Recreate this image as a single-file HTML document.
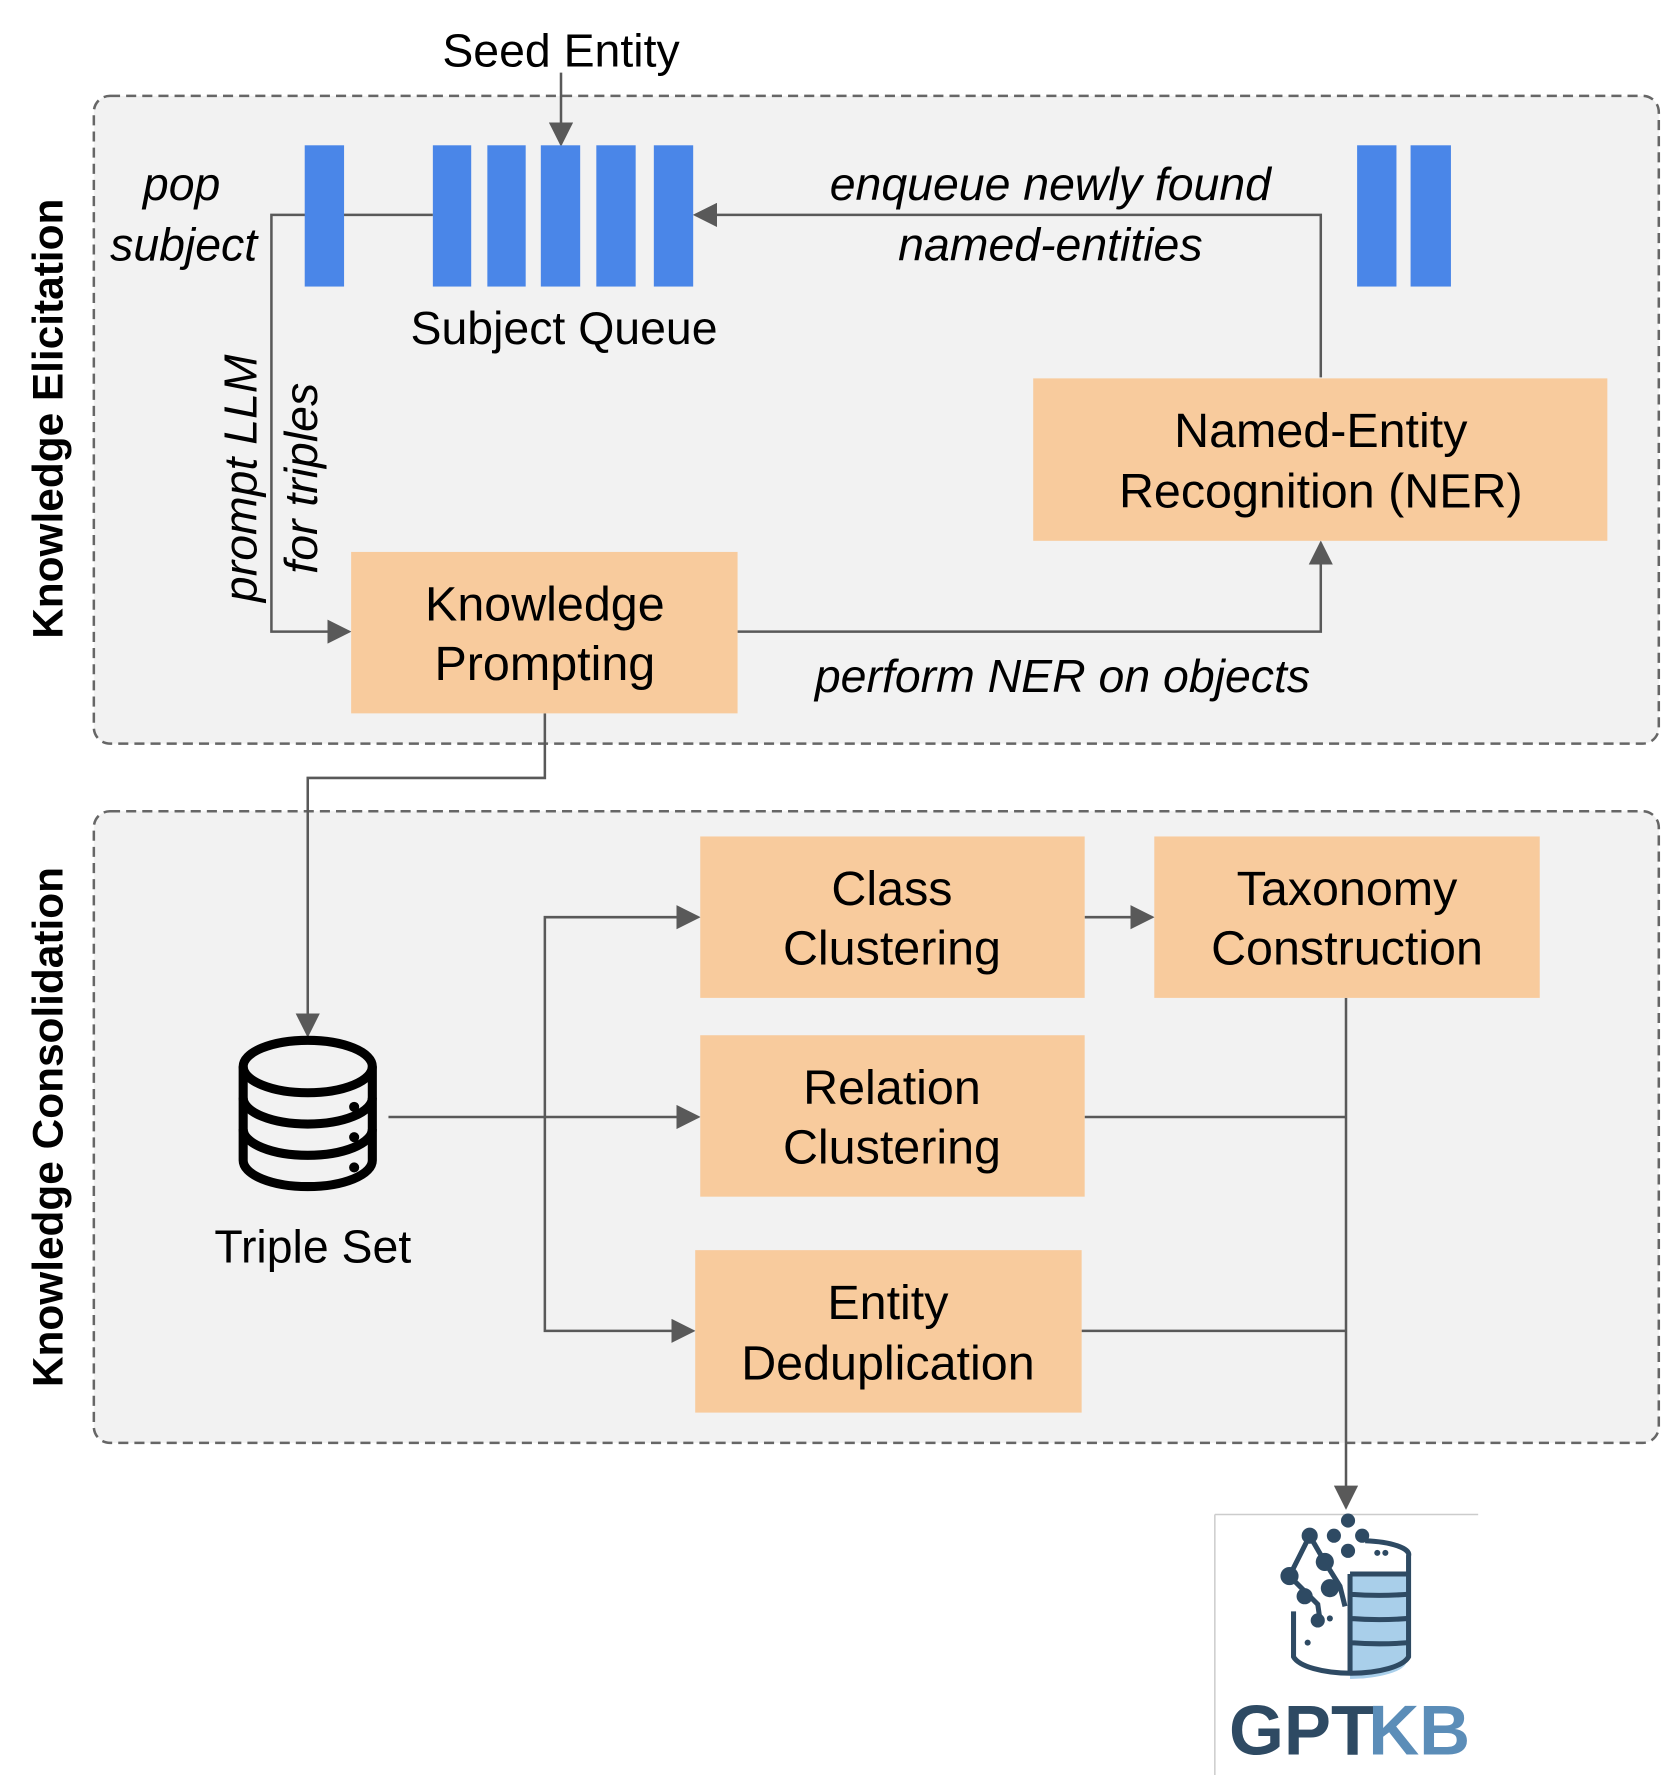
<!DOCTYPE html>
<html><head><meta charset="utf-8"><style>
html,body{margin:0;padding:0;background:#fff;}
svg{display:block;}
text{font-family:"Liberation Sans",Arial,sans-serif;fill:#000;}
</style></head><body>
<svg width="1661" height="1775" viewBox="0 0 1661 1775" xmlns="http://www.w3.org/2000/svg">
<defs>
<marker id="ah" viewBox="0 0 10 10" refX="9" refY="5" markerWidth="24" markerHeight="24" markerUnits="userSpaceOnUse" orient="auto">
<path d="M0,0 L10,5 L0,10 z" fill="#595959"/></marker>
</defs>
<g transform="scale(1.009)">
<rect x="93" y="95" width="1551" height="642" rx="16" fill="#f2f2f2" stroke="#666" stroke-width="2.5" stroke-dasharray="10,6"/>
<rect x="93" y="804" width="1551" height="626" rx="16" fill="#f2f2f2" stroke="#666" stroke-width="2.5" stroke-dasharray="10,6"/>

<text x="556" y="66" font-size="46" text-anchor="middle">Seed Entity</text>
<line x1="556" y1="72" x2="556" y2="143" stroke="#595959" stroke-width="2.5" marker-end="url(#ah)"/>

<g stroke="#595959" stroke-width="2.5" fill="none">
<polyline points="429,213 269,213 269,626 346,626" marker-end="url(#ah)"/>
<polyline points="1309,374 1309,213 689,213" marker-end="url(#ah)"/>
<polyline points="731,626 1309,626 1309,538" marker-end="url(#ah)"/>
<polyline points="540,707 540,771 305,771 305,1026" marker-end="url(#ah)"/>
<polyline points="540,1107 540,909 692,909" marker-end="url(#ah)"/>
<polyline points="540,1107 540,1319 687,1319" marker-end="url(#ah)"/>
<polyline points="385,1107 692,1107" marker-end="url(#ah)"/>
<polyline points="1075,909 1142,909" marker-end="url(#ah)"/>
<polyline points="1334,989 1334,1494" marker-end="url(#ah)"/>
<polyline points="1075,1107 1334,1107"/>
<polyline points="1072,1319 1334,1319"/>
</g>

<g fill="#4a86e8">
<rect x="302" y="144" width="39" height="140"/>
<rect x="429" y="144" width="38" height="140"/>
<rect x="483" y="144" width="38" height="140"/>
<rect x="536" y="144" width="39" height="140"/>
<rect x="591" y="144" width="39" height="140"/>
<rect x="648" y="144" width="39" height="140"/>
<rect x="1345" y="144" width="39" height="140"/>
<rect x="1398" y="144" width="40" height="140"/>
</g>

<g font-style="italic" font-size="46">
<text x="180" y="198" text-anchor="middle">pop</text>
<text x="182" y="258" text-anchor="middle">subject</text>
<text x="1041" y="198" text-anchor="middle">enqueue newly found</text>
<text x="1041" y="258" text-anchor="middle">named-entities</text>
<text x="1053" y="686" text-anchor="middle">perform NER on objects</text>
<text transform="translate(254,474) rotate(-90)" text-anchor="middle">prompt LLM</text>
<text transform="translate(314,474) rotate(-90)" text-anchor="middle">for triples</text>
</g>
<text x="559" y="341" font-size="46" text-anchor="middle">Subject Queue</text>

<g font-weight="bold" font-size="42">
<text transform="translate(62,415) rotate(-90)" text-anchor="middle">Knowledge Elicitation</text>
<text transform="translate(62,1117) rotate(-90)" text-anchor="middle">Knowledge Consolidation</text>
</g>

<g fill="#f8cb9d">
<rect x="348" y="547" width="383" height="160"/>
<rect x="1024" y="375" width="569" height="161"/>
<rect x="694" y="829" width="381" height="160"/>
<rect x="1144" y="829" width="382" height="160"/>
<rect x="694" y="1026" width="381" height="160"/>
<rect x="689" y="1239" width="383" height="161"/>
</g>
<g font-size="48" text-anchor="middle">
<text x="540" y="615">Knowledge</text><text x="540" y="674">Prompting</text>
<text x="1309" y="443">Named-Entity</text><text x="1309" y="503">Recognition (NER)</text>
<text x="884" y="897">Class</text><text x="884" y="956">Clustering</text>
<text x="1335" y="897">Taxonomy</text><text x="1335" y="956">Construction</text>
<text x="884" y="1094">Relation</text><text x="884" y="1153">Clustering</text>
<text x="880" y="1307">Entity</text><text x="880" y="1367">Deduplication</text>
</g>

<g stroke="#000" stroke-width="9" fill="none">
<ellipse cx="305" cy="1057" rx="64" ry="26"/>
<path d="M241,1057 V1150 A64,26 0 0 0 369,1150 V1057"/>
<path d="M241,1088 A64,26 0 0 0 369,1088"/>
<path d="M241,1119 A64,26 0 0 0 369,1119"/>
</g>
<g fill="#000"><circle cx="351" cy="1097" r="5"/><circle cx="351" cy="1127" r="5"/><circle cx="351" cy="1157" r="5"/></g>
<text x="310" y="1251" font-size="46" text-anchor="middle">Triple Set</text>

<g transform="translate(-12,-8)">
<line x1="1216" y1="1509" x2="1477" y2="1509" stroke="#ccc" stroke-width="1.5"/>
<line x1="1216" y1="1509" x2="1216" y2="1785" stroke="#ccc" stroke-width="1.5"/>
<path d="M1350,1570 H1406 V1655 A58,18 0 0 1 1350,1672 Z" fill="#a9cfea"/>
<g stroke="#2e4a63" stroke-width="5" fill="none">
<path d="M1365,1535 A50,14 0 0 1 1408,1550 V1650 A58,20 0 0 1 1294,1650 V1605"/>
<path d="M1350,1568 H1408 M1350,1588 A58,8 0 0 0 1408,1588 M1350,1612 A58,8 0 0 0 1408,1612 M1350,1636 A58,8 0 0 0 1408,1636 M1350,1568 V1668"/>
<path d="M1310,1530 L1290,1570 L1318,1598 L1320,1612 M1310,1530 L1325,1556 L1340,1580 L1345,1600"/>
</g>
<g fill="#2e4a63">
<circle cx="1348" cy="1515" r="7"/><circle cx="1334" cy="1530" r="7"/><circle cx="1362" cy="1530" r="7"/><circle cx="1348" cy="1545" r="7"/>
<circle cx="1310" cy="1530" r="8"/><circle cx="1325" cy="1556" r="9"/><circle cx="1290" cy="1570" r="9"/><circle cx="1330" cy="1582" r="9"/><circle cx="1305" cy="1590" r="8"/><circle cx="1318" cy="1614" r="7"/>
<circle cx="1377" cy="1547" r="3"/><circle cx="1385" cy="1547" r="3"/><circle cx="1330" cy="1612" r="3"/><circle cx="1308" cy="1636" r="3"/>
</g>
<text x="1230" y="1747" font-size="70" font-weight="bold" style="fill:#2e4a63">GPT</text>
<text x="1368" y="1747" font-size="70" font-weight="bold" style="fill:#5b8db8">KB</text>
</g>
</g>
</svg>
</body></html>
